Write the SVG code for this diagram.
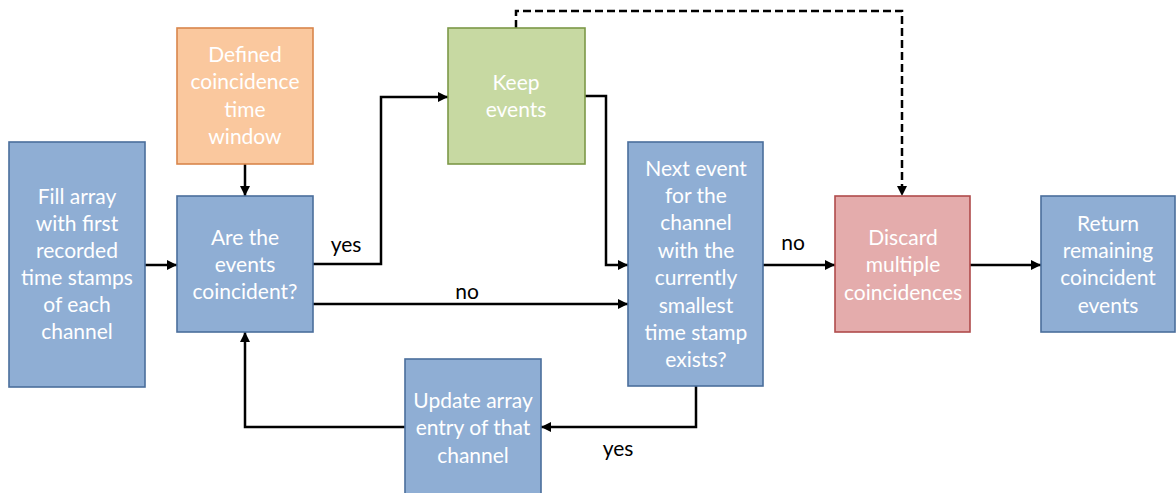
<svg xmlns="http://www.w3.org/2000/svg" width="1176" height="493" viewBox="0 0 1176 493">
  <style>
    .box { stroke-width: 1.6; }
    .blue { fill: #8FAED4; stroke: #4A6E9C; }
    .orange { fill: #FAC89E; stroke: #D9864B; }
    .green { fill: #C7D9A2; stroke: #7C9848; }
    .red { fill: #E4ACAC; stroke: #B04C4C; }
    .t { font-family: Lato, "Open Sans", sans-serif; font-size: 21px; fill: #FFFFFF; text-anchor: middle; }
    .lbl { font-family: Lato, "Open Sans", sans-serif; font-size: 21px; fill: #000000; text-anchor: middle; }
    .wire { fill: none; stroke: #000000; stroke-width: 2.5; marker-end: url(#arrow); }
    .dash { stroke-dasharray: 8 4; }
  </style>
  <defs>
    <marker id="arrow" viewBox="0 0 10 10" refX="10" refY="5" markerWidth="4" markerHeight="4" orient="auto" markerUnits="strokeWidth">
      <path d="M0,0 L10,5 L0,10 Z" fill="#000000"/>
    </marker>
  </defs>
  <rect width="1176" height="493" fill="#FFFFFF"/>

  <g id="connectors">
    <path class="wire" d="M145,265 H177"/>
    <path class="wire" d="M245,164 V196"/>
    <path class="wire" d="M313,264 H381 V97 H448"/>
    <path class="wire" d="M313,304 H628"/>
    <path class="wire" d="M585,96 H606 V265 H628"/>
    <path class="wire" d="M763,265 H835"/>
    <path class="wire" d="M970,265 H1041"/>
    <path class="wire" d="M696,386 V427 H541"/>
    <path class="wire" d="M405,427 H245 V332"/>
    <path class="wire dash" d="M516,28 V11 H902 V196"/>
    <text class="lbl" x="346" y="252">yes</text>
    <text class="lbl" x="467" y="299">no</text>
    <text class="lbl" x="793" y="250">no</text>
    <text class="lbl" x="618" y="456">yes</text>
  </g>

  <g id="fill-array">
    <rect class="box blue" x="9" y="142" width="136" height="245"/>
    <text class="t" x="77" y="204">Fill array</text>
    <text class="t" x="77" y="231">with first</text>
    <text class="t" x="77" y="258">recorded</text>
    <text class="t" x="77" y="285">time stamps</text>
    <text class="t" x="77" y="312">of each</text>
    <text class="t" x="77" y="339">channel</text>
  </g>

  <g id="time-window">
    <rect class="box orange" x="177" y="28" width="136" height="136"/>
    <text class="t" x="245" y="62">Defined</text>
    <text class="t" x="245" y="89">coincidence</text>
    <text class="t" x="245" y="117">time</text>
    <text class="t" x="245" y="144">window</text>
  </g>

  <g id="coincident-check">
    <rect class="box blue" x="177" y="196" width="136" height="136"/>
    <text class="t" x="245" y="245">Are the</text>
    <text class="t" x="245" y="272">events</text>
    <text class="t" x="245" y="299">coincident?</text>
  </g>

  <g id="keep-events">
    <rect class="box green" x="448" y="28" width="137" height="136"/>
    <text class="t" x="516" y="90">Keep</text>
    <text class="t" x="516" y="117">events</text>
  </g>

  <g id="next-event">
    <rect class="box blue" x="628" y="142" width="135" height="244"/>
    <text class="t" x="696" y="176">Next event</text>
    <text class="t" x="696" y="203">for the</text>
    <text class="t" x="696" y="230">channel</text>
    <text class="t" x="696" y="258">with the</text>
    <text class="t" x="696" y="285">currently</text>
    <text class="t" x="696" y="313">smallest</text>
    <text class="t" x="696" y="340">time stamp</text>
    <text class="t" x="696" y="367">exists?</text>
  </g>

  <g id="discard">
    <rect class="box red" x="835" y="196" width="135" height="136"/>
    <text class="t" x="903" y="245">Discard</text>
    <text class="t" x="903" y="272">multiple</text>
    <text class="t" x="903" y="300">coincidences</text>
  </g>

  <g id="return-events">
    <rect class="box blue" x="1041" y="196" width="134" height="136"/>
    <text class="t" x="1108" y="231">Return</text>
    <text class="t" x="1108" y="258">remaining</text>
    <text class="t" x="1108" y="285">coincident</text>
    <text class="t" x="1108" y="313">events</text>
  </g>

  <g id="update-entry">
    <rect class="box blue" x="405" y="359" width="136" height="140"/>
    <text class="t" x="473" y="408">Update array</text>
    <text class="t" x="473" y="435">entry of that</text>
    <text class="t" x="473" y="463">channel</text>
  </g>
</svg>
